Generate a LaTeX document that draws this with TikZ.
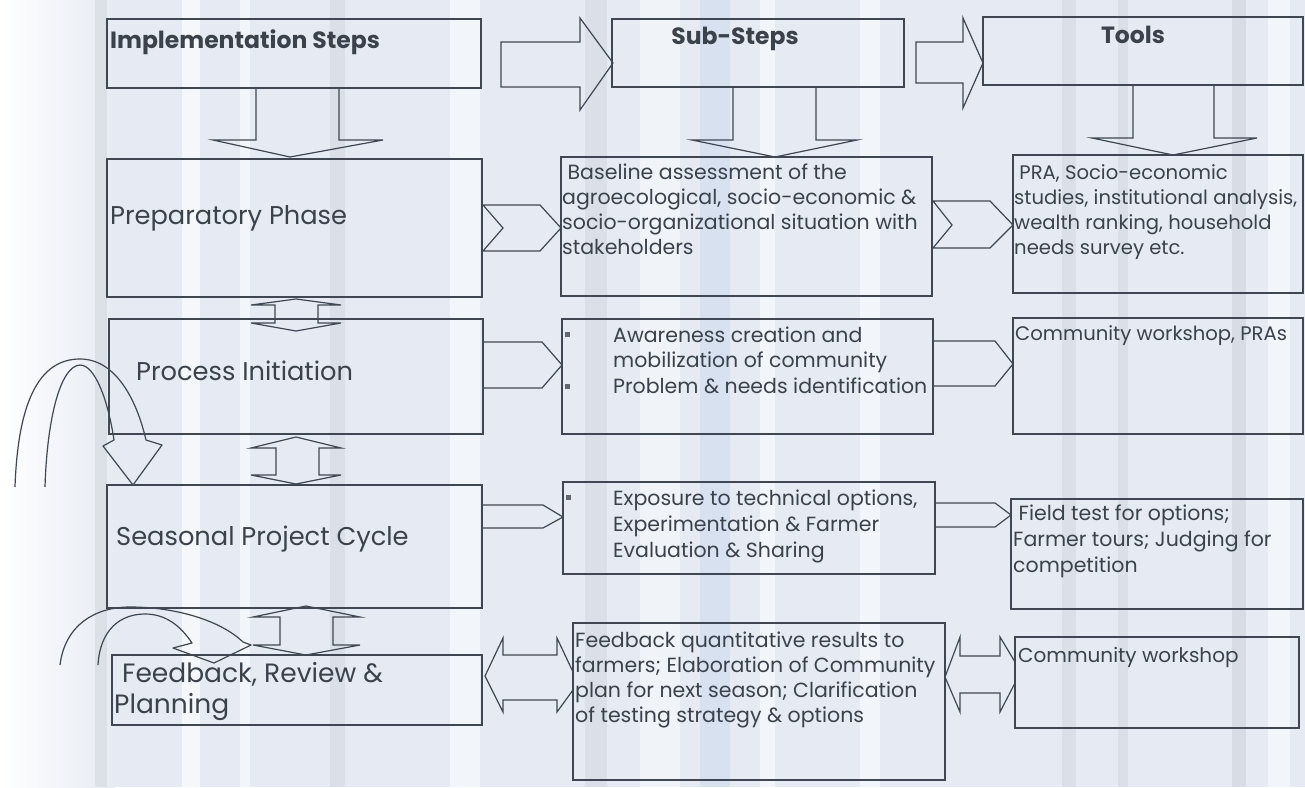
\documentclass[tikz,border=0pt]{standalone}
\usepackage{fontspec}
\setmainfont{Poppins}
\definecolor{bgblue}{HTML}{E6EBF3}
\definecolor{linecol}{HTML}{3E4752}
\definecolor{txtcol}{HTML}{3A424C}
\definecolor{stripeg}{HTML}{C4C9D1}
\definecolor{stripeb}{HTML}{C9D8EE}
\newcommand\mybox[5]{\node[box, minimum width={(#4-#2)*1pt}, minimum height={(#5-#3)*1pt}] (#1) at ({(#2+#4)/2},{(#3+#5)/2}) {};}
\begin{document}
\begin{tikzpicture}[x=1pt,y=-1pt,
  box/.style={draw=linecol, line width=1.3pt, inner sep=0pt},
  blk/.style={draw=linecol, line width=1.2pt, line join=miter},
  bigtxt/.style={anchor=base west, inner sep=0pt, text=txtcol, font=\fontsize{25.7}{30}\selectfont},
  smtxt/.style={anchor=base west, inner sep=0pt, text=txtcol, font=\fontsize{20.5}{25}\selectfont},
  pratxt/.style={anchor=base west, inner sep=0pt, text=txtcol, font=\fontsize{19.6}{25}\selectfont},
  hdtxt/.style={inner sep=0pt, text=txtcol, font=\fontsize{23.5}{27}\selectfont\bfseries},
  bul/.style={fill=txtcol!80, minimum size=5pt, inner sep=0pt}]
\useasboundingbox (0,0) rectangle (1305,787);
% background
\fill[bgblue] (0,0) rectangle (1305,787);
\fill[left color=white, right color=bgblue] (0,0) rectangle (115,787);
\foreach \xa/\w/\c/\o in {95/12/stripeg/0.35, 182/18/white/0.6, 240/10/white/0.5, 330/15/stripeg/0.3,
   450/30/white/0.5, 585/22/stripeg/0.3, 640/40/white/0.4, 700/30/stripeb/0.5, 760/15/white/0.5,
   860/20/white/0.5, 1062/14/stripeg/0.3, 1118/10/stripeg/0.3, 1232/14/stripeg/0.4, 1268/22/white/0.5}
  \fill[\c, opacity=\o] (\xa,0) rectangle ++(\w,787);
% header boxes
\mybox{hA}{107}{19}{481}{88}
\mybox{hB}{612}{19}{904}{87}
\mybox{hC}{983}{17}{1303}{85}
\node[hdtxt, anchor=base west] (hAt) at (110,48) {Implementation Steps};
\node[hdtxt, anchor=base] (hBt) at (735,44) {Sub-Steps};
\node[hdtxt, anchor=base] (hCt) at (1133,43) {Tools};
% header arrows
\draw[blk] (501,42) -- (580,42) -- (580,18) -- (613,63) -- (580,110) -- (580,87) -- (501,87) -- cycle;
\draw[blk] (916,42) -- (963,42) -- (963,18) -- (983,63) -- (963,108) -- (963,83) -- (916,83) -- cycle;
% down arrows
\draw[blk] (256,88) -- (256,140) -- (213,140) -- (290,157) -- (383,140) -- (339,140) -- (339,88);
\draw[blk] (733,87) -- (733,140) -- (692,140) -- (775,157) -- (857,140) -- (816,140) -- (816,87);
\draw[blk] (1133,85) -- (1133,138) -- (1092,138) -- (1173,155) -- (1257,138) -- (1214,138) -- (1214,85);
% row 1
\mybox{prep}{107}{159}{482}{297}
\mybox{base}{561}{157}{932}{296}
\mybox{pra}{1013}{155}{1303}{293}
\node[bigtxt] (prept) at (110,224) {Preparatory Phase};
\node[smtxt] (b1) at (562,179) {\ Baseline assessment of the};
\node[smtxt] (b2) at (562,204) {agroecological, socio-economic \&};
\node[smtxt] (b3) at (562,229) {socio-organizational situation with};
\node[smtxt] (b4) at (562,254) {stakeholders};
\node[pratxt] (p1) at (1014,179) {\ PRA, Socio-economic};
\node[pratxt] (p2) at (1014,204) {studies, institutional analysis,};
\node[pratxt] (p3) at (1014,229) {wealth ranking, household};
\node[pratxt] (p4) at (1014,254) {needs survey etc.};
\draw[blk] (483,205) -- (540,205) -- (561,228) -- (540,251) -- (483,251) -- (503,228) -- cycle;
\draw[blk] (933,201) -- (990,201) -- (1013,225) -- (990,248) -- (933,248) -- (952,225) -- cycle;
% row 2
\mybox{proc}{109}{319}{483}{434}
\mybox{aware}{562}{319}{933}{434}
\mybox{comm}{1013}{318}{1303}{434}
\node[bigtxt] (proct) at (136,380) {Process Initiation};
\node[bul] (bu1) at (567,334) {};
\node[bul] (bu2) at (567,386) {};
\node[smtxt] (a1) at (613,342) {Awareness creation and};
\node[smtxt] (a2) at (613,367) {mobilization of community};
\node[smtxt] (a3) at (613,393) {Problem \& needs identification};
\node[pratxt] (c1) at (1015,340) {Community workshop, PRAs};
\draw[blk] (483,342) -- (542,342) -- (562,365) -- (542,388) -- (483,388);
\draw[blk] (933,341) -- (995,341) -- (1013,364) -- (995,386) -- (933,386);
% row 3
\mybox{seas}{107}{485}{482}{608}
\mybox{expo}{563}{482}{935}{574}
\mybox{field}{1011}{499}{1303}{609}
\node[bigtxt] (seast) at (116,545) {Seasonal Project Cycle};
\node[bul] (bu3) at (568,497) {};
\node[smtxt] (e1) at (613,505) {Exposure to technical options,};
\node[smtxt] (e2) at (613,531) {Experimentation \& Farmer};
\node[smtxt] (e3) at (613,557) {Evaluation \& Sharing};
\node[smtxt] (f1) at (1013,520) {\ Field test for options;};
\node[smtxt] (f2) at (1013,546) {Farmer tours; Judging for};
\node[smtxt] (f3) at (1013,572) {competition};
\draw[blk] (483,505) -- (543,505) -- (563,517) -- (543,528) -- (483,528);
\draw[blk] (935,503) -- (995,503) -- (1011,515) -- (995,527) -- (935,527);
% row 4
\mybox{feed}{112}{655}{482}{725}
\mybox{fq}{573}{623}{945}{780}
\mybox{cw}{1015}{637}{1299}{728}
\node[bigtxt, font=\fontsize{26.5}{30}\selectfont] (feedt1) at (122,682) {Feedback, Review \&};
\node[bigtxt, font=\fontsize{26.5}{30}\selectfont] (feedt2) at (114,713) {Planning};
\node[smtxt] (q1) at (575,647) {Feedback quantitative results to};
\node[smtxt] (q2) at (575,672) {farmers; Elaboration of Community};
\node[smtxt] (q3) at (575,697) {plan for next season; Clarification};
\node[smtxt] (q4) at (575,722) {of testing strategy \& options};
\node[smtxt, font=\fontsize{20}{24}\selectfont] (w1) at (1018,662) {Community workshop};
\draw[blk] (503,655) -- (557,655) -- (557,638) -- (573,672) -- (573,690) -- (557,712) -- (557,700) -- (503,700) -- (503,712) -- (485,676) -- (503,638) -- cycle;
\draw[blk] (960,656) -- (1000,656) -- (1000,637) -- (1015,662) -- (1015,683) -- (1000,712) -- (1000,693) -- (960,693) -- (960,712) -- (945,677) -- (960,637) -- cycle;
% vertical double arrows
\draw[blk] (296,299) -- (341,305) -- (318,305) -- (318,323) -- (341,323) -- (296,331) -- (251,323) -- (275,323) -- (275,305) -- (251,305) -- cycle;
\draw[blk] (296,437) -- (341,448) -- (319,448) -- (319,475) -- (341,475) -- (296,484) -- (251,475) -- (276,475) -- (276,448) -- (251,448) -- cycle;
\draw[blk] (306,606) -- (360,617) -- (333,617) -- (333,645) -- (360,645) -- (306,655) -- (253,645) -- (280,645) -- (280,617) -- (253,617) -- cycle;
% curved arrows
\draw[blk, line join=round] (15,487) .. controls (18,400) and (40,359) .. (80,359) .. controls (118,359) and (138,405) .. (146,440)
   -- (162,445) -- (133,485) -- (103,446) -- (114,440)
   .. controls (108,400) and (95,365) .. (80,365) .. controls (60,366) and (47,420) .. (45,487);
\draw[blk, line join=round] (60,665) .. controls (65,625) and (95,607) .. (130,607) .. controls (175,607) and (220,620) .. (243,642)
   -- (251,645) -- (214,663) -- (173,648) -- (192,643)
   .. controls (180,625) and (165,614) .. (145,614) .. controls (120,614) and (100,630) .. (98,665);
\end{tikzpicture}
\end{document}
